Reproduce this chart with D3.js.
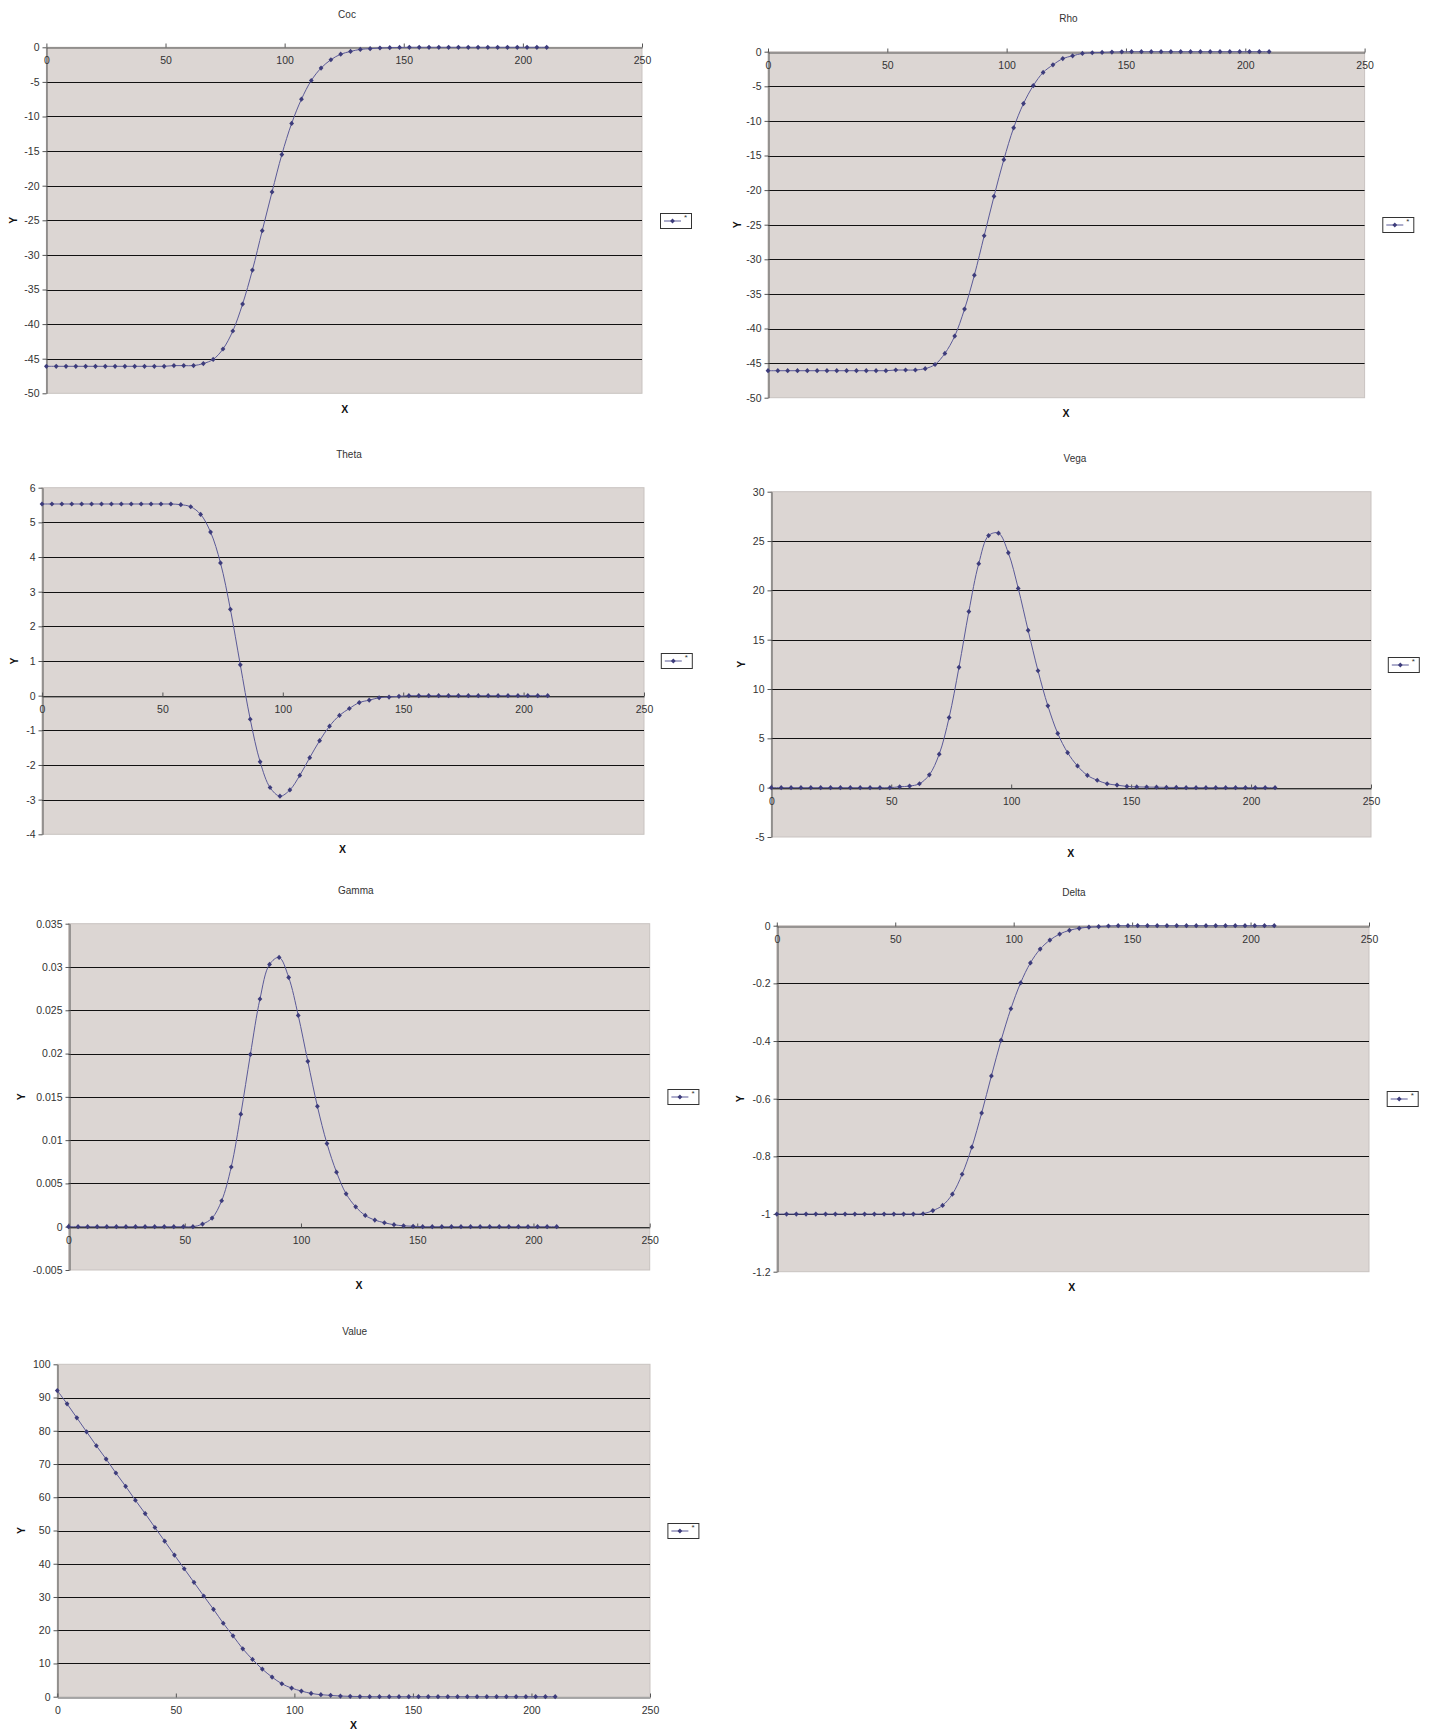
<!DOCTYPE html>
<html><head><meta charset="utf-8">
<script src="https://cdn.jsdelivr.net/npm/d3@7"></script>
<style>
html,body{margin:0;padding:0;background:#fff;}
svg{display:block;}
text{font-family:"Liberation Sans",Arial,sans-serif;}
</style></head><body>
<svg id="c" width="1432" height="1732"></svg>
<script>
// ---------- data ----------
const xValues = [0,4.12,8.24,12.35,16.47,20.59,24.71,28.82,32.94,37.06,41.18,45.29,49.41,53.53,57.65,61.76,65.88,70,74.12,78.24,82.35,86.47,90.59,94.71,98.82,102.94,107.06,111.18,115.29,119.41,123.53,127.65,131.76,135.88,140,144.12,148.24,152.35,156.47,160.59,164.71,168.82,172.94,177.06,181.18,185.29,189.41,193.53,197.65,201.76,205.88,210];

const cocValues = [-46.1,-46.1,-46.1,-46.1,-46.1,-46.1,-46.1,-46.1,-46.1,-46.1,-46.1,-46.1,-46.1,-46.0,-46.0,-46.0,-45.7,-45.1,-43.6,-41.0,-37.1,-32.2,-26.5,-20.9,-15.5,-11.0,-7.5,-4.8,-3.0,-1.8,-1.0,-0.6,-0.3,-0.2,-0.1,-0.05,-0.02,0,0,0,0,0,0,0,0,0,0,0,0,0,0,0];

const rhoValues = [-46.1,-46.1,-46.1,-46.1,-46.1,-46.1,-46.1,-46.1,-46.1,-46.1,-46.1,-46.1,-46.1,-46.0,-46.0,-46.0,-45.8,-45.2,-43.6,-41.1,-37.2,-32.3,-26.6,-20.9,-15.6,-11.0,-7.5,-4.9,-3.0,-1.9,-1.0,-0.6,-0.25,-0.15,-0.1,-0.05,-0.02,0,0,0,0,0,0,0,0,0,0,0,0,0,0,0];

const thetaValues = [5.53,5.53,5.53,5.53,5.53,5.53,5.53,5.53,5.53,5.53,5.53,5.53,5.53,5.53,5.51,5.45,5.23,4.72,3.83,2.49,0.89,-0.68,-1.91,-2.65,-2.90,-2.72,-2.30,-1.79,-1.30,-0.88,-0.57,-0.37,-0.20,-0.13,-0.06,-0.04,-0.02,0,0,0,0,0,0,0,0,0,0,0,0,0,0,0];

const vegaValues = [0,0,0,0,0,0,0,0,0,0,0,0,0,0.09,0.16,0.4,1.3,3.4,7.1,12.2,17.85,22.7,25.55,25.8,23.8,20.2,15.95,11.85,8.3,5.5,3.55,2.2,1.25,0.75,0.4,0.26,0.13,0.08,0.06,0.05,0.03,0.02,0,0,0,0,0,0,0,0,0,0];

const gammaValues = [0,0,0,0,0,0,0,0,0,0,0,0,0,0,0.0003,0.001,0.003,0.0069,0.013,0.0199,0.0263,0.0303,0.0311,0.0288,0.0244,0.0191,0.0139,0.0096,0.0063,0.0038,0.0023,0.0013,0.00077,0.00046,0.00023,0.0001,0.00005,0,0,0,0,0,0,0,0,0,0,0,0,0,0,0];

const deltaValues = [-1,-1,-1,-1,-1,-1,-1,-1,-1,-1,-1,-1,-1,-1,-1,-0.999,-0.988,-0.970,-0.931,-0.862,-0.768,-0.650,-0.521,-0.397,-0.288,-0.198,-0.129,-0.081,-0.050,-0.029,-0.016,-0.009,-0.005,-0.003,-0.001,0,0,0,0,0,0,0,0,0,0,0,0,0,0,0,0,0];

const valueValues = [92.1,88.1,83.9,79.7,75.5,71.5,67.3,63.3,59.1,55.1,50.9,46.8,42.6,38.5,34.4,30.3,26.3,22.1,18.3,14.4,11.2,8.3,5.9,3.9,2.6,1.7,1.0,0.6,0.4,0.2,0.1,0.05,0,0,0,0,0,0,0,0,0,0,0,0,0,0,0,0,0,0,0,0];

const xTicks = [0,50,100,150,200,250];
const cocTicks = [0,-5,-10,-15,-20,-25,-30,-35,-40,-45,-50];
const rhoTicks = [0,-5,-10,-15,-20,-25,-30,-35,-40,-45,-50];
const thetaTicks = [6,5,4,3,2,1,0,-1,-2,-3,-4];
const vegaTicks = [30,25,20,15,10,5,0,-5];
const gammaTicks = [0.035,0.03,0.025,0.02,0.015,0.01,0.005,0,-0.005];
const deltaTicks = [0,-0.2,-0.4,-0.6,-0.8,-1,-1.2];
const valueTicks = [100,90,80,70,60,50,40,30,20,10,0];
const seriesName = "*";

// ---------- layout ----------
const charts = [
  {title:"Coc",   values:cocValues,   ticks:cocTicks,   L:46.4, R:642,   T:47.3,  B:393.3,  tx:347,   ty:15,    xlx:344.7, xly:410,   ylx:14.4, lgx:660,   lgy:213},
  {title:"Rho",   values:rhoValues,   ticks:rhoTicks,   L:768,  R:1364.6,T:51.7,  B:397.7,  tx:1068.5,ty:19.3,  xlx:1066,  xly:414,   ylx:738,  lgx:1382.3,lgy:217},
  {title:"Theta", values:thetaValues, ticks:thetaTicks, L:42,   R:644,   T:487.7, B:834.3,  tx:349,   ty:455.7, xlx:342.5, xly:850.7, ylx:15.5, lgx:660.8, lgy:653},
  {title:"Vega",  values:vegaValues,  ticks:vegaTicks,  L:771.3,R:1371,  T:491.7, B:837,    tx:1075,  ty:459.3, xlx:1070.7,xly:854,   ylx:742.5,lgx:1387.8,lgy:657},
  {title:"Gamma", values:gammaValues, ticks:gammaTicks, L:68.5, R:649.7, T:923.7, B:1270,   tx:355.8, ty:891.3, xlx:359,   xly:1286.7,ylx:22,   lgx:667.4, lgy:1089},
  {title:"Delta", values:deltaValues, ticks:deltaTicks, L:776.8,R:1369,  T:925.7, B:1271.7, tx:1074,  ty:893.3, xlx:1071.8,xly:1288.3,ylx:741.4,lgx:1386.7,lgy:1091},
  {title:"Value", values:valueValues, ticks:valueTicks, L:57.3, R:650,   T:1364.3,B:1696.7, tx:354.7, ty:1332.3,xlx:353.6, xly:1726.7,ylx:22,   lgx:667.4, lgy:1523}
];

const svg = d3.select("#c");
const fmt = d => String(Math.round(d*1e6)/1e6);
const lineColor = "#5b5a98", markColor = "#3d3c7b";
const diamond = "M0,-2.6L2.4,0L0,2.6L-2.4,0Z";

charts.forEach(c => {
  const g = svg.append("g");
  const yExt = d3.extent(c.ticks);
  const x = d3.scaleLinear().domain([0,250]).range([c.L, c.R]);
  const y = d3.scaleLinear().domain(yExt).range([c.B, c.T]);

  g.append("rect").attr("x", c.L).attr("y", c.T).attr("width", c.R-c.L).attr("height", c.B-c.T)
    .attr("fill", "#dcd6d3").attr("stroke", "#c9c3c0").attr("stroke-width", 1);

  // gridlines
  g.append("g").selectAll("line").data(c.ticks.filter(t => t !== yExt[0] && t !== yExt[1]))
    .join("line")
    .attr("x1", c.L).attr("x2", c.R)
    .attr("y1", d => Math.round(y(d))+0.5).attr("y2", d => Math.round(y(d))+0.5)
    .attr("stroke", "#111").attr("stroke-width", 1);

  // y axis
  const ya = g.append("g").attr("transform", `translate(${Math.round(c.L)+0.5},0)`)
    .call(d3.axisLeft(y).tickValues(c.ticks).tickSizeInner(4).tickSizeOuter(0).tickPadding(3).tickFormat(fmt));
  ya.select(".domain").attr("stroke", "#555");
  ya.selectAll(".tick line").attr("stroke", "#555");
  ya.selectAll("text").attr("font-size", 10.5).attr("fill", "#333").attr("font-family", '"Liberation Sans",Arial,sans-serif');

  // x axis at y = 0
  const xa = g.append("g").attr("transform", `translate(0,${Math.round(y(0))+0.5})`)
    .call(d3.axisBottom(x).tickValues(xTicks).tickSizeInner(-4).tickSizeOuter(0).tickPadding(9).tickFormat(fmt));
  xa.select(".domain").attr("stroke", "#555");
  xa.selectAll(".tick line").attr("stroke", "#555");
  xa.selectAll("text").attr("font-size", 10.5).attr("fill", "#333").attr("font-family", '"Liberation Sans",Arial,sans-serif');

  const pts = xValues.map((xv, i) => [xv, c.values[i]]);
  g.append("path").datum(pts)
    .attr("d", d3.line().x(d => x(d[0])).y(d => y(d[1])).curve(d3.curveCatmullRom))
    .attr("fill", "none").attr("stroke", lineColor).attr("stroke-width", 1);
  g.append("g").selectAll("path").data(pts).join("path")
    .attr("d", diamond)
    .attr("transform", d => `translate(${x(d[0])},${y(d[1])})`)
    .attr("fill", markColor);

  // title
  g.append("text").attr("x", c.tx).attr("y", c.ty).attr("text-anchor", "middle")
    .attr("dominant-baseline", "middle").attr("font-size", 10).attr("fill", "#333").text(c.title);
  // axis titles
  g.append("text").attr("x", c.xlx).attr("y", c.xly).attr("text-anchor", "middle")
    .attr("dominant-baseline", "middle").attr("font-size", 10.5).attr("font-weight", "bold").attr("fill", "#111").text("X");
  g.append("text").attr("transform", `translate(${c.ylx},${(c.T+c.B)/2}) rotate(-90)`)
    .attr("text-anchor", "middle").attr("dominant-baseline", "middle")
    .attr("font-size", 10.5).attr("font-weight", "bold").attr("fill", "#111").text("Y");

  // legend
  const lg = g.append("g").attr("transform", `translate(${c.lgx},${c.lgy})`);
  lg.append("rect").attr("x", 0.5).attr("y", 0.5).attr("width", 31).attr("height", 15)
    .attr("fill", "#fff").attr("stroke", "#333");
  lg.append("line").attr("x1", 4).attr("x2", 21).attr("y1", 8).attr("y2", 8).attr("stroke", lineColor);
  lg.append("path").attr("d", diamond).attr("transform", "translate(12.5,8)").attr("fill", markColor);
  lg.append("text").attr("x", 24).attr("y", 7).attr("font-size", 8).attr("fill", "#333").text(seriesName);
});
</script>
</body></html>
